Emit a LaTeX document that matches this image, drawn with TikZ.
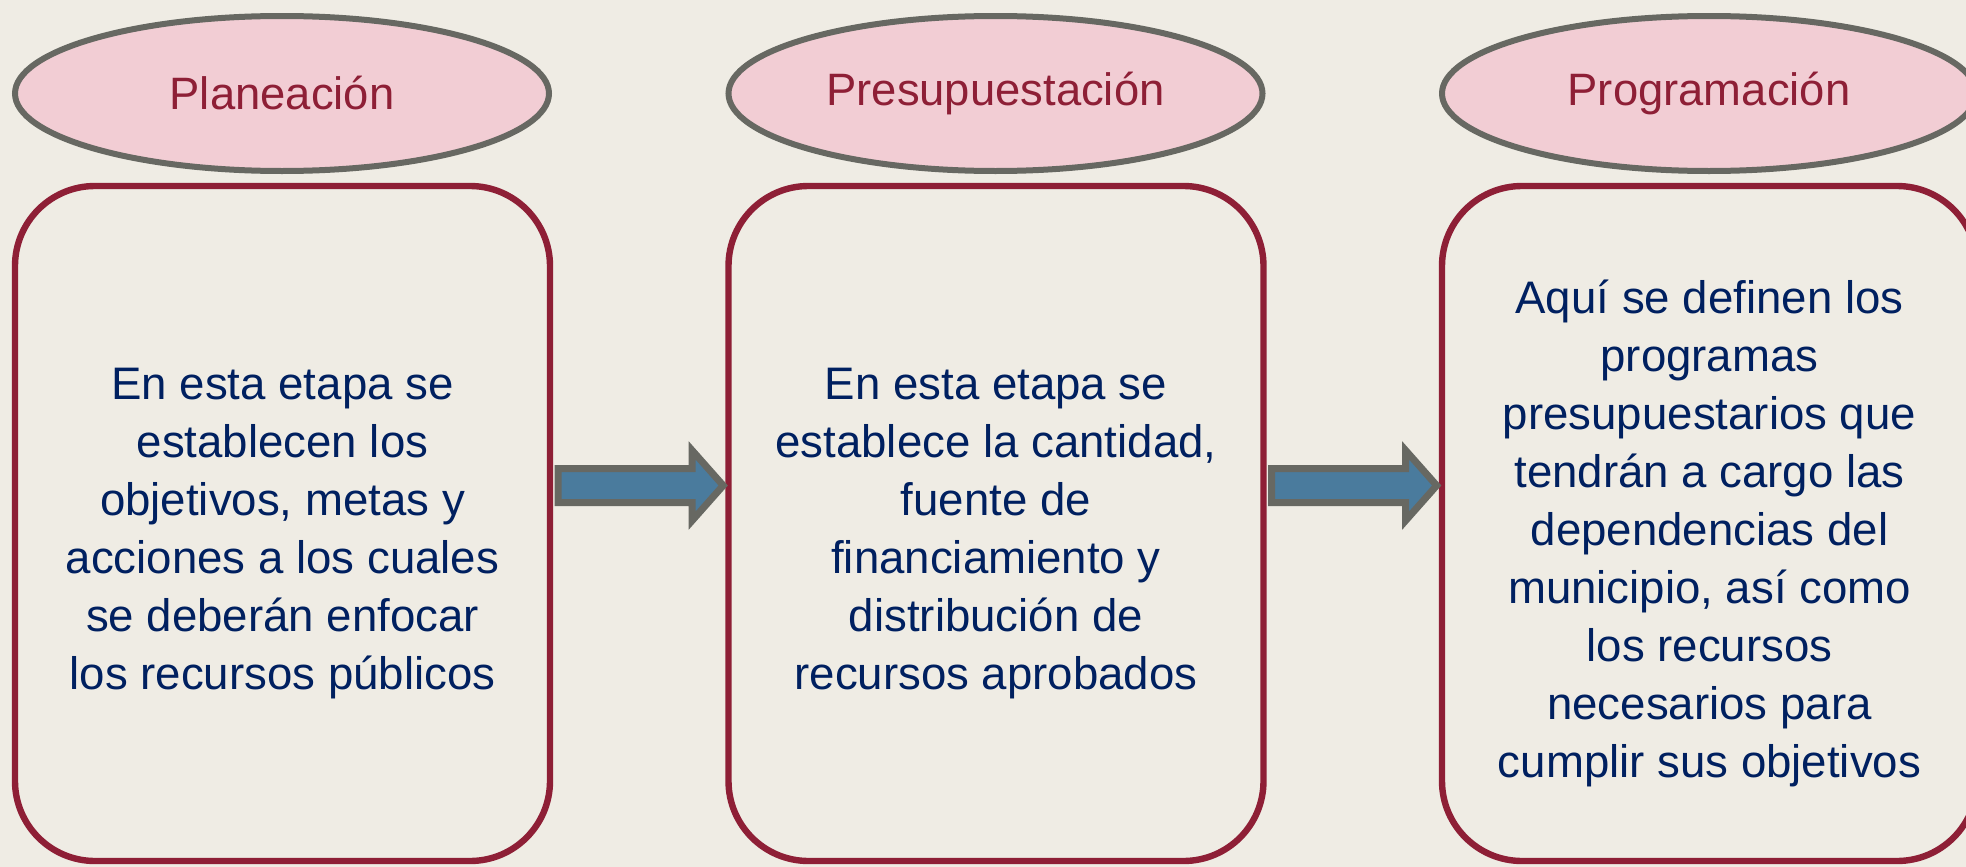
\documentclass[tikz,border=0pt]{standalone}
\usepackage{fontspec}
\setmainfont{Liberation Sans}
\usetikzlibrary{shapes.geometric}
\definecolor{fondo}{RGB}{239,236,228}
\definecolor{rosa}{RGB}{242,205,212}
\definecolor{gris}{RGB}{103,104,98}
\definecolor{vino}{RGB}{142,31,54}
\definecolor{tinta}{RGB}{0,32,96}
\definecolor{acero}{RGB}{74,123,157}
\tikzset{
  etapa/.style={ellipse, draw=gris, line width=3pt, fill=rosa, inner sep=0pt,
    minimum width=267pt, minimum height=77.5pt, text=vino,
    font=\fontsize{22.7}{27}\selectfont},
  caja/.style={rectangle, rounded corners=40pt, draw=vino, line width=3.2pt,
    inner sep=0pt, minimum width=267.5pt, minimum height=337.5pt},
  texto/.style={align=center, inner sep=0pt, text=tinta,
    font=\fontsize{22.8}{29}\selectfont},
  flecha/.style={draw=gris, fill=acero, line width=3.5pt, line join=miter}
}
\begin{document}
\begin{tikzpicture}[x=0.5pt,y=-0.5pt]
\useasboundingbox (0,0) rectangle (1966,867);
\clip (0,0) rectangle (1966,867);
\fill[fondo] (0,0) rectangle (1966,867);

\node (e1) [etapa] at (282,93.5) {Planeación};
\node (e2) [etapa] at (995.5,93.5) {Presupuestación};
\node (e3) [etapa] at (1709,93.5) {Programación};

\node (b1) [caja] at (282.5,523.5) {};
\node (b2) [caja] at (996,523.5) {};
\node (b3) [caja] at (1709.5,523.5) {};

\node (x1) [texto] at ([yshift=-5pt]b1.center) {En esta etapa se\\establecen los\\objetivos, metas y\\acciones a los cuales\\se deberán enfocar\\los recursos públicos};
\node (x2) [texto] at ([yshift=-5pt]b2.center) {En esta etapa se\\establece la cantidad,\\fuente de\\financiamiento y\\distribución de\\recursos aprobados};
\node (x3) [texto] at ([yshift=-5pt]b3.center) {Aquí se definen los\\programas\\presupuestarios que\\tendrán a cargo las\\dependencias del\\municipio, así como\\los recursos\\necesarios para\\cumplir sus objetivos};

\coordinate (t1) at (b1.east |- 0,485.5);
\coordinate (t2) at (b2.east |- 0,485.5);
\draw[flecha] (t1) ++(5,-17) -- ++(134,0) -- ++(0,-18) -- ++(31,35) -- ++(-31,35) -- ++(0,-18) -- ++(-134,0) -- cycle;
\draw[flecha] (t2) ++(5,-17) -- ++(134,0) -- ++(0,-18) -- ++(31,35) -- ++(-31,35) -- ++(0,-18) -- ++(-134,0) -- cycle;

\end{tikzpicture}
\end{document}
